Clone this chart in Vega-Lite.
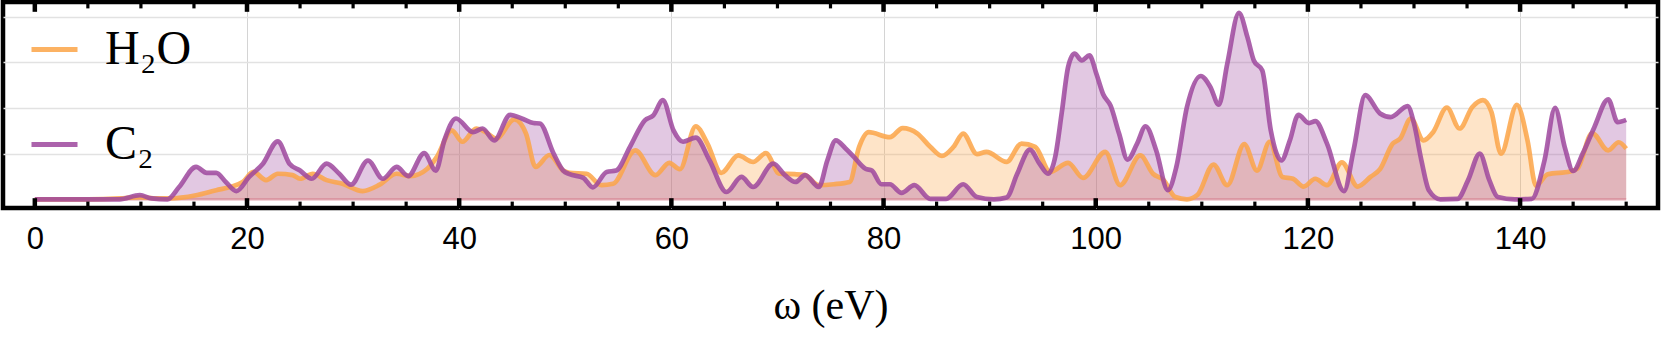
{
 "$schema": "https://vega.github.io/schema/vega-lite/v6.json",
 "width": 1655, "height": 206,
 "autosize": "none",
 "padding": {"left": 3, "top": 2, "right": 3, "bottom": 132},
 "background": "white",
 "config": {
   "view": {"stroke": "black", "strokeWidth": 4.5},
   "axis": {"domain": false, "title": null, "labels": false, "grid": false, "ticks": false}
 },
 "datasets": {
  "d": [
   {"s":"H₂O","w":0,"v":0},{"s":"H₂O","w":5,"v":0},{"s":"H₂O","w":8,"v":0.02},{"s":"H₂O","w":9.9,"v":0.05},{"s":"H₂O","w":11.5,"v":0.02},{"s":"H₂O","w":12.7,"v":0.02},{"s":"H₂O","w":15.2,"v":0.09},{"s":"H₂O","w":17.1,"v":0.2},{"s":"H₂O","w":18.4,"v":0.27},{"s":"H₂O","w":19.6,"v":0.38},{"s":"H₂O","w":20.6,"v":0.6},{"s":"H₂O","w":21.8,"v":0.42},{"s":"H₂O","w":22.9,"v":0.56},{"s":"H₂O","w":24.3,"v":0.53},{"s":"H₂O","w":25,"v":0.45},{"s":"H₂O","w":26.2,"v":0.56},{"s":"H₂O","w":27.5,"v":0.42},{"s":"H₂O","w":29,"v":0.34},{"s":"H₂O","w":30.9,"v":0.18},{"s":"H₂O","w":32.5,"v":0.32},{"s":"H₂O","w":34.1,"v":0.56},{"s":"H₂O","w":35.4,"v":0.51},{"s":"H₂O","w":37,"v":0.67},{"s":"H₂O","w":37.9,"v":0.93},{"s":"H₂O","w":39.3,"v":1.51},{"s":"H₂O","w":40.3,"v":1.26},{"s":"H₂O","w":41.6,"v":1.55},{"s":"H₂O","w":42.5,"v":1.47},{"s":"H₂O","w":43.5,"v":1.33},{"s":"H₂O","w":45.2,"v":1.75},{"s":"H₂O","w":46.3,"v":1.44},{"s":"H₂O","w":47.2,"v":0.71},{"s":"H₂O","w":48.5,"v":0.97},{"s":"H₂O","w":49.8,"v":0.63},{"s":"H₂O","w":50.4,"v":0.58},{"s":"H₂O","w":52,"v":0.56},{"s":"H₂O","w":53.4,"v":0.31},{"s":"H₂O","w":54.5,"v":0.34},{"s":"H₂O","w":56.6,"v":1.07},{"s":"H₂O","w":58.5,"v":0.53},{"s":"H₂O","w":59.8,"v":0.8},{"s":"H₂O","w":60.8,"v":0.66},{"s":"H₂O","w":62.3,"v":1.6},{"s":"H₂O","w":63.4,"v":1.22},{"s":"H₂O","w":64.7,"v":0.58},{"s":"H₂O","w":66.3,"v":0.96},{"s":"H₂O","w":67.7,"v":0.82},{"s":"H₂O","w":68.9,"v":1.01},{"s":"H₂O","w":70.2,"v":0.56},{"s":"H₂O","w":71.6,"v":0.55},{"s":"H₂O","w":72.6,"v":0.53},{"s":"H₂O","w":73.9,"v":0.31},{"s":"H₂O","w":75.3,"v":0.33},{"s":"H₂O","w":76.8,"v":0.38},{"s":"H₂O","w":77.7,"v":1.15},{"s":"H₂O","w":78.6,"v":1.47},{"s":"H₂O","w":80.6,"v":1.36},{"s":"H₂O","w":81.8,"v":1.56},{"s":"H₂O","w":83.2,"v":1.44},{"s":"H₂O","w":84.4,"v":1.15},{"s":"H₂O","w":85.5,"v":0.95},{"s":"H₂O","w":86.6,"v":1.15},{"s":"H₂O","w":87.5,"v":1.44},{"s":"H₂O","w":88.8,"v":0.99},{"s":"H₂O","w":89.7,"v":1.04},{"s":"H₂O","w":91.6,"v":0.82},{"s":"H₂O","w":93,"v":1.22},{"s":"H₂O","w":94.3,"v":1.15},{"s":"H₂O","w":95.7,"v":0.6},{"s":"H₂O","w":97.4,"v":0.8},{"s":"H₂O","w":98.8,"v":0.47},{"s":"H₂O","w":100.9,"v":1.04},{"s":"H₂O","w":102.3,"v":0.31},{"s":"H₂O","w":104.2,"v":0.96},{"s":"H₂O","w":105.4,"v":0.56},{"s":"H₂O","w":106.4,"v":0.42},{"s":"H₂O","w":107.5,"v":0.05},{"s":"H₂O","w":108.6,"v":0},{"s":"H₂O","w":109.6,"v":0.1},{"s":"H₂O","w":111.1,"v":0.76},{"s":"H₂O","w":112.4,"v":0.31},{"s":"H₂O","w":114,"v":1.21},{"s":"H₂O","w":115.2,"v":0.63},{"s":"H₂O","w":116.4,"v":1.26},{"s":"H₂O","w":117.6,"v":0.49},{"s":"H₂O","w":118.6,"v":0.45},{"s":"H₂O","w":119.6,"v":0.28},{"s":"H₂O","w":120.7,"v":0.45},{"s":"H₂O","w":121.8,"v":0.31},{"s":"H₂O","w":123.2,"v":0.81},{"s":"H₂O","w":124.7,"v":0.28},{"s":"H₂O","w":125.9,"v":0.49},{"s":"H₂O","w":126.8,"v":0.66},{"s":"H₂O","w":128,"v":1.22},{"s":"H₂O","w":128.7,"v":1.33},{"s":"H₂O","w":129.7,"v":1.77},{"s":"H₂O","w":130.9,"v":1.29},{"s":"H₂O","w":131.8,"v":1.47},{"s":"H₂O","w":133.1,"v":2.01},{"s":"H₂O","w":134.3,"v":1.55},{"s":"H₂O","w":135.5,"v":2.02},{"s":"H₂O","w":136.5,"v":2.17},{"s":"H₂O","w":137.3,"v":1.91},{"s":"H₂O","w":138.2,"v":1.0},{"s":"H₂O","w":139.7,"v":2.07},{"s":"H₂O","w":140.7,"v":1.29},{"s":"H₂O","w":141.5,"v":0.3},{"s":"H₂O","w":142.6,"v":0.55},{"s":"H₂O","w":144.7,"v":0.61},{"s":"H₂O","w":145.4,"v":0.67},{"s":"H₂O","w":146.8,"v":1.45},{"s":"H₂O","w":148.3,"v":1.07},{"s":"H₂O","w":149.3,"v":1.25},{"s":"H₂O","w":150,"v":1.11},
   {"s":"C₂","w":0,"v":0},{"s":"C₂","w":8,"v":0},{"s":"C₂","w":9.9,"v":0.09},{"s":"C₂","w":11,"v":0.02},{"s":"C₂","w":12.5,"v":0},{"s":"C₂","w":13.6,"v":0.27},{"s":"C₂","w":15.2,"v":0.71},{"s":"C₂","w":16.2,"v":0.58},{"s":"C₂","w":17.1,"v":0.58},{"s":"C₂","w":18,"v":0.38},{"s":"C₂","w":19,"v":0.18},{"s":"C₂","w":20.2,"v":0.49},{"s":"C₂","w":21.5,"v":0.78},{"s":"C₂","w":22.9,"v":1.27},{"s":"C₂","w":24,"v":0.78},{"s":"C₂","w":25,"v":0.63},{"s":"C₂","w":26.1,"v":0.45},{"s":"C₂","w":27.5,"v":0.78},{"s":"C₂","w":28.7,"v":0.56},{"s":"C₂","w":29.8,"v":0.32},{"s":"C₂","w":31.4,"v":0.85},{"s":"C₂","w":32.8,"v":0.45},{"s":"C₂","w":34.1,"v":0.71},{"s":"C₂","w":35.2,"v":0.51},{"s":"C₂","w":36.7,"v":1.01},{"s":"C₂","w":37.8,"v":0.63},{"s":"C₂","w":38.6,"v":1.29},{"s":"C₂","w":39.7,"v":1.77},{"s":"C₂","w":41.3,"v":1.47},{"s":"C₂","w":42.2,"v":1.55},{"s":"C₂","w":43.3,"v":1.29},{"s":"C₂","w":44.8,"v":1.85},{"s":"C₂","w":45.9,"v":1.77},{"s":"C₂","w":47,"v":1.67},{"s":"C₂","w":47.6,"v":1.66},{"s":"C₂","w":48.9,"v":1.0},{"s":"C₂","w":49.8,"v":0.63},{"s":"C₂","w":50.4,"v":0.55},{"s":"C₂","w":51.7,"v":0.47},{"s":"C₂","w":52.6,"v":0.26},{"s":"C₂","w":53.9,"v":0.6},{"s":"C₂","w":54.8,"v":0.63},{"s":"C₂","w":56.1,"v":1.15},{"s":"C₂","w":57.5,"v":1.73},{"s":"C₂","w":58.3,"v":1.84},{"s":"C₂","w":59.2,"v":2.17},{"s":"C₂","w":60.2,"v":1.51},{"s":"C₂","w":61.1,"v":1.26},{"s":"C₂","w":62.3,"v":1.35},{"s":"C₂","w":63.6,"v":0.85},{"s":"C₂","w":65.2,"v":0.16},{"s":"C₂","w":66.6,"v":0.49},{"s":"C₂","w":67.7,"v":0.27},{"s":"C₂","w":69.6,"v":0.78},{"s":"C₂","w":70.7,"v":0.53},{"s":"C₂","w":71.7,"v":0.38},{"s":"C₂","w":72.6,"v":0.53},{"s":"C₂","w":73.9,"v":0.27},{"s":"C₂","w":74.7,"v":0.85},{"s":"C₂","w":75.5,"v":1.29},{"s":"C₂","w":76.4,"v":1.12},{"s":"C₂","w":77.2,"v":0.93},{"s":"C₂","w":78.3,"v":0.67},{"s":"C₂","w":78.9,"v":0.63},{"s":"C₂","w":79.8,"v":0.33},{"s":"C₂","w":80.6,"v":0.33},{"s":"C₂","w":81.7,"v":0.14},{"s":"C₂","w":82.9,"v":0.31},{"s":"C₂","w":84.4,"v":0.01},{"s":"C₂","w":85.9,"v":0.01},{"s":"C₂","w":87.5,"v":0.33},{"s":"C₂","w":88.8,"v":0.05},{"s":"C₂","w":90.4,"v":0},{"s":"C₂","w":91.6,"v":0.04},{"s":"C₂","w":92.6,"v":0.56},{"s":"C₂","w":93.8,"v":1.09},{"s":"C₂","w":94.7,"v":0.78},{"s":"C₂","w":95.5,"v":0.56},{"s":"C₂","w":96.2,"v":0.95},{"s":"C₂","w":96.8,"v":1.9},{"s":"C₂","w":97.4,"v":2.9},{"s":"C₂","w":98,"v":3.19},{"s":"C₂","w":98.7,"v":3.04},{"s":"C₂","w":99.4,"v":3.15},{"s":"C₂","w":100.1,"v":2.72},{"s":"C₂","w":100.7,"v":2.3},{"s":"C₂","w":101.4,"v":2.05},{"s":"C₂","w":102.2,"v":1.44},{"s":"C₂","w":103,"v":0.87},{"s":"C₂","w":103.9,"v":1.22},{"s":"C₂","w":104.7,"v":1.6},{"s":"C₂","w":105.7,"v":1.07},{"s":"C₂","w":106.8,"v":0.2},{"s":"C₂","w":107.6,"v":0.71},{"s":"C₂","w":108.6,"v":2.02},{"s":"C₂","w":109.9,"v":2.7},{"s":"C₂","w":110.8,"v":2.46},{"s":"C₂","w":111.6,"v":2.07},{"s":"C₂","w":112.4,"v":2.97},{"s":"C₂","w":113.5,"v":4.08},{"s":"C₂","w":114.3,"v":3.55},{"s":"C₂","w":114.9,"v":3.04},{"s":"C₂","w":115.7,"v":2.82},{"s":"C₂","w":116.5,"v":1.51},{"s":"C₂","w":117.5,"v":0.85},{"s":"C₂","w":118.3,"v":1.29},{"s":"C₂","w":119.1,"v":1.85},{"s":"C₂","w":120.1,"v":1.67},{"s":"C₂","w":120.7,"v":1.71},{"s":"C₂","w":121.8,"v":1.22},{"s":"C₂","w":123.4,"v":0.18},{"s":"C₂","w":124.3,"v":1.07},{"s":"C₂","w":125.4,"v":2.28},{"s":"C₂","w":126.8,"v":1.88},{"s":"C₂","w":127.8,"v":1.8},{"s":"C₂","w":129.4,"v":2.04},{"s":"C₂","w":130,"v":1.66},{"s":"C₂","w":130.7,"v":0.85},{"s":"C₂","w":131.4,"v":0.2},{"s":"C₂","w":132.5,"v":0},{"s":"C₂","w":134.1,"v":0.01},{"s":"C₂","w":135.1,"v":0.42},{"s":"C₂","w":136.2,"v":1.0},{"s":"C₂","w":137.1,"v":0.42},{"s":"C₂","w":137.9,"v":0.05},{"s":"C₂","w":139.5,"v":0},{"s":"C₂","w":141.1,"v":0.01},{"s":"C₂","w":142.3,"v":0.85},{"s":"C₂","w":143.3,"v":2.0},{"s":"C₂","w":144.2,"v":1.15},{"s":"C₂","w":145,"v":0.62},{"s":"C₂","w":145.9,"v":1.0},{"s":"C₂","w":147,"v":1.58},{"s":"C₂","w":148.3,"v":2.19},{"s":"C₂","w":149.2,"v":1.69},{"s":"C₂","w":150,"v":1.74}
  ],
  "base": [{"a": 0, "b": 150, "v": 0}],
  "tk": [
   {"t":0,"k":"major"},{"t":20,"k":"major"},{"t":40,"k":"major"},{"t":60,"k":"major"},{"t":80,"k":"major"},{"t":100,"k":"major"},{"t":120,"k":"major"},{"t":140,"k":"major"},
   {"t":5,"k":"minor"},{"t":10,"k":"minor"},{"t":15,"k":"minor"},{"t":25,"k":"minor"},{"t":30,"k":"minor"},{"t":35,"k":"minor"},{"t":45,"k":"minor"},{"t":50,"k":"minor"},{"t":55,"k":"minor"},{"t":65,"k":"minor"},{"t":70,"k":"minor"},{"t":75,"k":"minor"},{"t":85,"k":"minor"},{"t":90,"k":"minor"},{"t":95,"k":"minor"},{"t":105,"k":"minor"},{"t":110,"k":"minor"},{"t":115,"k":"minor"},{"t":125,"k":"minor"},{"t":130,"k":"minor"},{"t":135,"k":"minor"},{"t":145,"k":"minor"},{"t":150,"k":"minor"}
  ]
 },
 "layer": [
  {
   "data": {"name": "d"},
   "transform": [{"filter": "datum.s === 'H₂O'"}],
   "mark": {"type": "area", "interpolate": "monotone", "color": "#FCA548", "opacity": 0.3},
   "encoding": {
    "x": {"field": "w", "type": "quantitative", "scale": {"domain": [-3, 153], "nice": false, "zero": false},
     "axis": {"orient": "bottom", "values": [0,20,40,60,80,100,120,140], "labels": true, "labelFont": "Liberation Sans", "labelFontSize": 31, "labelColor": "black", "labelPadding": 16, "labelFlush": false, "labelOverlap": false, "grid": true, "gridColor": "#d4d4d4", "gridWidth": 1, "gridOpacity": {"condition": {"test": "datum.value === 0", "value": 0}, "value": 1}, "title": "ω (eV)", "titleFont": "Liberation Serif", "titleFontSize": 42, "titleFontWeight": "normal", "titleColor": "black", "titlePadding": 31}},
    "y": {"field": "v", "type": "quantitative", "scale": {"domain": [-0.19, 4.32], "nice": false, "zero": false},
     "axis": {"values": [1,2,3,4], "grid": true, "gridColor": "#e2e2e2", "gridWidth": 1.5, "labels": false, "ticks": false, "domain": false, "title": null}}
   }
  },
  {
   "data": {"name": "d"},
   "transform": [{"filter": "datum.s === 'C₂'"}],
   "mark": {"type": "area", "interpolate": "monotone", "color": "#9E489E", "opacity": 0.3},
   "encoding": {
    "x": {"field": "w", "type": "quantitative"},
    "y": {"field": "v", "type": "quantitative"}
   }
  },
  {
   "data": {"name": "base"},
   "mark": {"type": "rule", "color": "#D8909C", "strokeWidth": 2.5, "opacity": 0.8},
   "encoding": {
    "x": {"field": "a", "type": "quantitative"},
    "x2": {"field": "b"},
    "y": {"field": "v", "type": "quantitative"}
   }
  },
  {
   "data": {"name": "d"},
   "transform": [{"filter": "datum.s === 'H₂O'"}],
   "mark": {"type": "line", "interpolate": "monotone", "strokeWidth": 4.7, "opacity": 0.85, "strokeJoin": "round"},
   "encoding": {
    "x": {"field": "w", "type": "quantitative"},
    "y": {"field": "v", "type": "quantitative"},
    "color": {"field": "s", "type": "nominal", "scale": {"domain": ["H₂O", "C₂"], "range": ["#FCA548", "#9E489E"]},
     "legend": {"orient": "none", "legendX": 26, "legendY": 22, "title": null, "symbolType": "stroke", "symbolSize": 2116, "symbolStrokeWidth": 5, "symbolOpacity": 0.6, "labelFont": "Liberation Serif", "labelFontSize": 48, "labelColor": "black", "labelOffset": 25, "rowPadding": 45, "labelLimit": 0}}
   }
  },
  {
   "data": {"name": "d"},
   "transform": [{"filter": "datum.s === 'C₂'"}],
   "mark": {"type": "line", "interpolate": "monotone", "strokeWidth": 4.7, "opacity": 0.85, "strokeJoin": "round"},
   "encoding": {
    "x": {"field": "w", "type": "quantitative"},
    "y": {"field": "v", "type": "quantitative"},
    "color": {"field": "s", "type": "nominal"}
   }
  },
  {
   "data": {"name": "tk"},
   "transform": [{"filter": "datum.k === 'major'"}],
   "mark": {"type": "rule", "color": "black", "strokeWidth": 4.5},
   "encoding": {"x": {"field": "t", "type": "quantitative"}, "y": {"datum": -0.19}, "y2": {"datum": 0.025}}
  },
  {
   "data": {"name": "tk"},
   "transform": [{"filter": "datum.k === 'major'"}],
   "mark": {"type": "rule", "color": "black", "strokeWidth": 4.5},
   "encoding": {"x": {"field": "t", "type": "quantitative"}, "y": {"datum": 4.32}, "y2": {"datum": 4.105}}
  },
  {
   "data": {"name": "tk"},
   "transform": [{"filter": "datum.k === 'minor'"}],
   "mark": {"type": "rule", "color": "black", "strokeWidth": 3.2},
   "encoding": {"x": {"field": "t", "type": "quantitative"}, "y": {"datum": -0.19}, "y2": {"datum": -0.05}}
  },
  {
   "data": {"name": "tk"},
   "transform": [{"filter": "datum.k === 'minor'"}],
   "mark": {"type": "rule", "color": "black", "strokeWidth": 3.2},
   "encoding": {"x": {"field": "t", "type": "quantitative"}, "y": {"datum": 4.32}, "y2": {"datum": 4.18}}
  }
 ]
}
